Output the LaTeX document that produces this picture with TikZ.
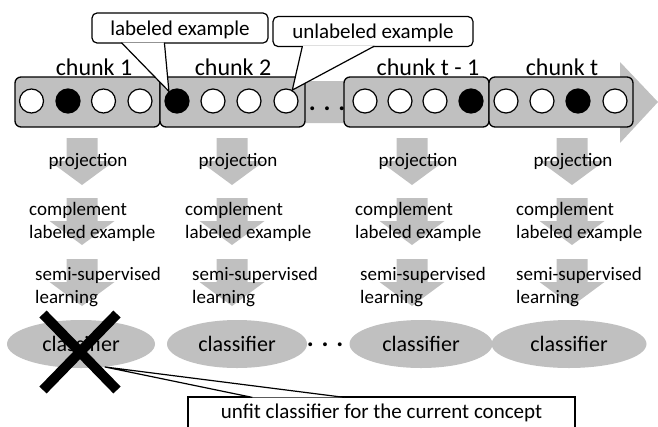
\documentclass[tikz,border=0pt]{standalone}
\usepackage{fontspec}
\setmainfont{Carlito}
\usetikzlibrary{calc,shapes.geometric}
\definecolor{bandgray}{RGB}{192,192,192}
\begin{document}
\begin{tikzpicture}[x=1pt,y=-1pt,
  chunkbox/.style={draw=black,fill=bandgray,line width=1.3pt,rounded corners=6pt},
  ex/.style={circle,draw=black,line width=1.2pt,fill=white,minimum size=24pt,inner sep=0pt},
  labex/.style={ex,fill=black},
  chunklab/.style={font=\fontsize{24}{28}\selectfont,anchor=base,inner sep=0pt},
  steptext/.style={font=\fontsize{19}{23}\selectfont,anchor=base west,inner sep=0pt,align=left},
  projtext/.style={font=\fontsize{19}{23}\selectfont,anchor=base,inner sep=0pt},
  callout/.style={draw=black,fill=white,line width=1.2pt,rounded corners=5pt,inner sep=0pt,font=\fontsize{21}{25}\selectfont,text height=22pt,text depth=8pt,anchor=base},
  pointer/.style={draw=black,fill=white,line width=1.2pt},
  clf/.style={ellipse,fill=bandgray,minimum height=48pt,inner sep=0pt,font=\fontsize{22}{26}\selectfont},
  ellip/.style={font=\fontsize{26}{30}\selectfont\bfseries,inner sep=0pt,anchor=base},
  downarrow/.pic={\fill[bandgray] (-15.5,0) -- (15.5,0) -- (15.5,23) -- (32.5,23) -- (0,47) -- (-32.5,23) -- (-15.5,23) -- cycle;}
]
\useasboundingbox (0,0) rectangle (658,426);
\clip (0,0) rectangle (658,426);
% time band arrow
\fill[bandgray] (15,81) -- (620,81) -- (620,62) -- (658,102) -- (620,143) -- (620,123) -- (15,123) -- cycle;
% chunk boxes
\draw[chunkbox] (15,77) rectangle (160,127);
\draw[chunkbox] (160,77) rectangle (305,127);
\draw[chunkbox] (344,77) rectangle (489,127);
\draw[chunkbox] (489,77) rectangle (633,127);
% examples
\node[ex]    (c1)  at (31.5,101) {};
\node[labex] (c2)  at (68,101) {};
\node[ex]    (c3)  at (103.5,101) {};
\node[ex]    (c4)  at (140,101) {};
\node[labex] (c5)  at (177,101) {};
\node[ex]    (c6)  at (213,101) {};
\node[ex]    (c7)  at (249,101) {};
\node[ex]    (c8)  at (286,101) {};
\node[ex]    (c9)  at (365,101) {};
\node[ex]    (c10) at (400,101) {};
\node[ex]    (c11) at (435,101) {};
\node[labex] (c12) at (471,101) {};
\node[ex]    (c13) at (506,101) {};
\node[ex]    (c14) at (542,101) {};
\node[labex] (c15) at (578,101) {};
\node[ex]    (c16) at (615,101) {};
\node[ellip] (d1) at (327,110) {. . .};
% chunk labels
\node[chunklab] (k1) at (94,75) {chunk 1};
\node[chunklab] (k2) at (233,75) {chunk 2};
\node[chunklab] (k3) at (428,75) {chunk t - 1};
\node[chunklab] (k4) at (562,75) {chunk t};
% callouts
\node[callout,minimum width=176pt] (lab) at (180,35) {labeled example};
\node[callout,minimum width=200pt] (unl) at (373,38.5) {unlabeled example};
\filldraw[pointer] ($(lab.south west)+(30,-1)$) -- (c5.130) -- ($(lab.south west)+(73,-1)$);
\filldraw[pointer] ($(unl.south west)+(30,-1)$) -- (c8.60) -- ($(unl.south west)+(102,-1)$);
% processing arrows
\foreach \x in {82,232,412,572}{
  \pic at (\x,138) {downarrow};
  \pic at (\x,198) {downarrow};
  \pic at (\x,259) {downarrow};
}
% step labels
\node[projtext] (p1) at (88,166) {projection};
\node[projtext] (p2) at (238,166) {projection};
\node[projtext] (p3) at (418,166) {projection};
\node[projtext] (p4) at (573,166) {projection};
\node[steptext] (m1) at (29,238) {complement\\labeled example};
\node[steptext] (m2) at (185,238) {complement\\labeled example};
\node[steptext] (m3) at (355,238) {complement\\labeled example};
\node[steptext] (m4) at (516,238) {complement\\labeled example};
\node[steptext] (s1) at (35,303) {semi-supervised\\learning};
\node[steptext] (s2) at (192,303) {semi-supervised\\learning};
\node[steptext] (s3) at (360,303) {semi-supervised\\learning};
\node[steptext] (s4) at (516,303) {semi-supervised\\learning};
% classifiers
\node[clf,minimum width=148pt] (cl1) at (81,344) {classifier};
\node[clf,minimum width=140pt] (cl2) at (237,344) {classifier};
\node[clf,minimum width=143pt] (cl3) at (421,344) {classifier};
\node[clf,minimum width=155pt] (cl4) at (569,344) {classifier};
\node[ellip] (d2) at (325,346) {. . .};
% unfit callout
\node[draw=black,fill=white,line width=1.2pt,inner sep=0pt,font=\fontsize{21}{25}\selectfont,text height=21pt,text depth=22pt,minimum width=387pt,anchor=base] (unfit) at (381.5,418) {unfit classifier for the current concept};
\filldraw[pointer] ($(unfit.north west)+(65,1)$) -- (cl1.-44) -- ($(unfit.north west)+(157,1)$);
% cross
\draw[line width=10pt] (43,314) -- (117,390);
\draw[line width=10pt] (117,314) -- (43,390);
\end{tikzpicture}
\end{document}
